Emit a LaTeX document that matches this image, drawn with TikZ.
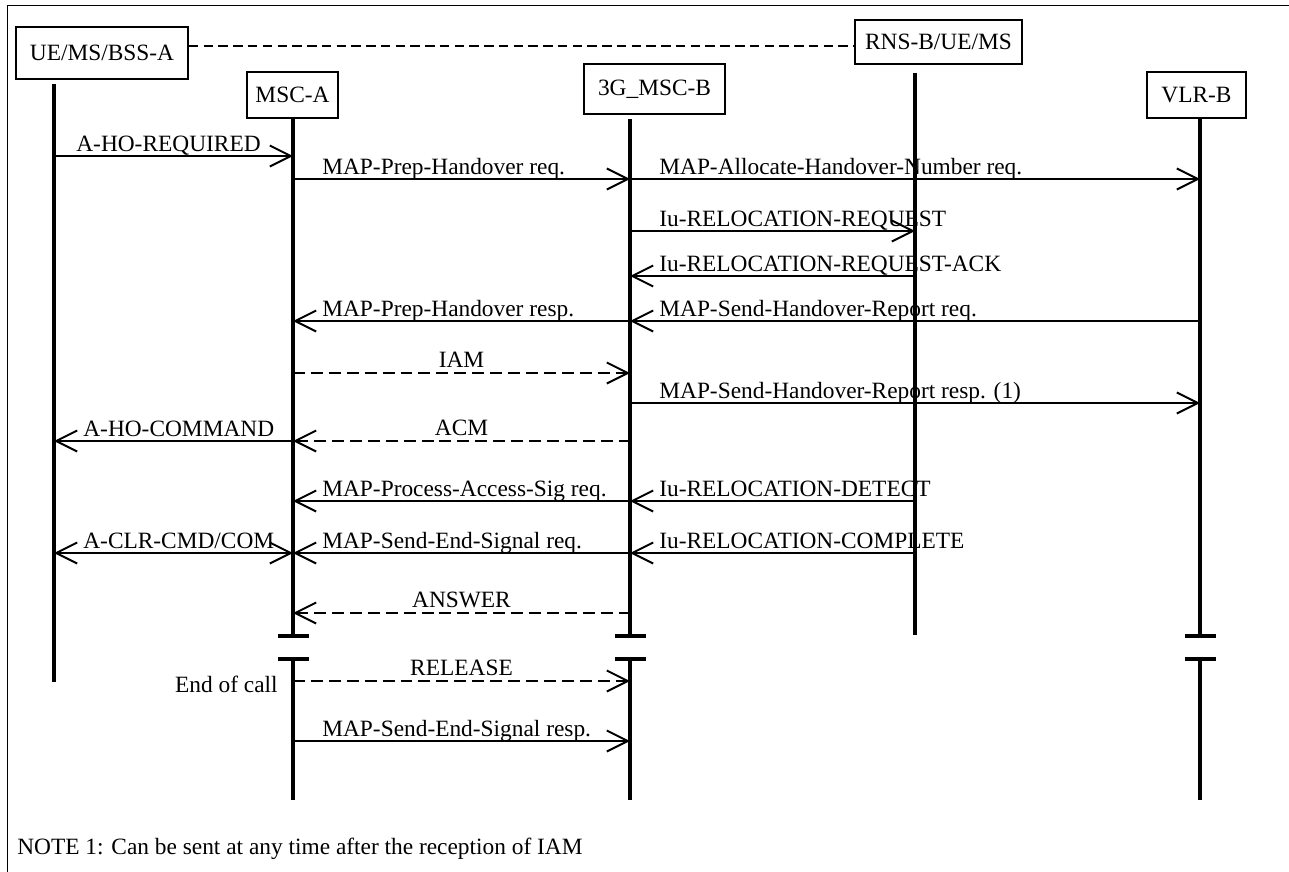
\documentclass[tikz,border=0pt]{standalone}
\usepackage{fontspec}
\setmainfont{Liberation Serif}
\usetikzlibrary{arrows.meta, calc, positioning}
\newcommand{\msgfont}{\fontsize{13.3pt}{16pt}\selectfont}
\tikzset{
    entity/.style={draw, line width=1.1pt, inner sep=2pt, font=\msgfont},
    lifeline/.style={line width=1.8pt},
    breakBar/.style={line width=2.3pt},
    msgEdge/.style={->, line width=1.1pt},
    msgBack/.style={<-, line width=1.1pt},
    msgBoth/.style={<->, line width=1.1pt},
    msgDash/.style={->, line width=1.1pt, dash pattern=on 6.8pt off 3.4pt},
    msgDashBack/.style={<-, line width=1.1pt, dash pattern=on 6.8pt off 3.4pt},
    msgLabel/.style={font=\msgfont, inner sep=0pt},
    >={Straight Barb[length=0.42cm, width=0.42cm]},
}
% message between two lifelines, label left aligned
\newcommand{\drawMsg}[5][msgEdge]{
    \coordinate (l) at ($(#2)+(0,#4)$);
    \coordinate (r) at ($(#3)+(0,#4)$);
    \draw[#1] (l) -- (r);
    \node[msgLabel, anchor=base west] at ($(l)+(29,-5)$) {#5};
}
% message with centred label
\newcommand{\drawMsgMid}[5][msgDash]{
    \coordinate (l) at ($(#2)+(0,#4)$);
    \coordinate (r) at ($(#3)+(0,#4)$);
    \draw[#1] (l) -- node[msgLabel, anchor=base, yshift=3pt] {#5} (r);
}
% lifeline with a break
\newcommand{\drawLifeline}[2]{
    \draw[lifeline] ($(#1)+(0,#2)$) -- ($(#1)+(0,636)$);
    \draw[breakBar] ($(#1)+(-15.5,636)$) -- ($(#1)+(15.5,636)$);
    \draw[breakBar] ($(#1)+(-15.5,659)$) -- ($(#1)+(15.5,659)$);
    \draw[lifeline] ($(#1)+(0,659)$) -- ($(#1)+(0,800)$);
}
\begin{document}
\begin{tikzpicture}[x=0.02cm, y=-0.02cm]

        \clip (0,0) rectangle (1289,872);
        \draw[line width=1.1pt] (7.5,5.5) rectangle (1300,880);

        % entities
        \node[entity, minimum width=3.44cm, minimum height=1.04cm] (ueBox) at (102,53) {UE/MS/BSS-A};
        \node[entity, minimum width=3.34cm, minimum height=0.88cm] (rnsBox) at (938.5,42) {RNS-B/UE/MS};
        \node[entity, minimum width=1.82cm, minimum height=0.92cm] (mscaBox) at (292.5,95) {MSC-A};
        \node[entity, minimum width=2.82cm, minimum height=1.0cm] (mscbBox) at (654.5,89) {3G\_MSC-B};
        \node[entity, minimum width=1.98cm, minimum height=0.92cm] (vlrBox) at (1196.5,95) {VLR-B};

        \coordinate (hdr) at (0,46);
        \draw[line width=1.1pt, dash pattern=on 5.4pt off 3pt] (ueBox.east |- hdr) -- (rnsBox.west |- hdr);

        % lifelines
        \coordinate (ue) at (54,0);
        \coordinate (msca) at (293,0);
        \coordinate (mscb) at (630,0);
        \coordinate (rns) at (915,0);
        \coordinate (vlr) at (1200,0);

        \draw[lifeline] ($(ue)+(0,84)$) -- ($(ue)+(0,682)$);
        \draw[lifeline] ($(rns)+(0,73)$) -- ($(rns)+(0,635)$);
        \drawLifeline{msca}{118}
        \drawLifeline{mscb}{119}
        \drawLifeline{vlr}{118}

        % messages
        \coordinate (l) at ($(ue)+(0,156)$);
        \coordinate (r) at ($(msca)+(0,156)$);
        \draw[msgEdge] (l) -- (r);
        \node[msgLabel, anchor=base west] at ($(l)+(22,-5)$) {A-HO-REQUIRED};
        \drawMsg{msca}{mscb}{179}{MAP-Prep-Handover req.}
        \drawMsg{mscb}{vlr}{179}{MAP-Allocate-Handover-Number req.}
        \drawMsg{mscb}{rns}{231}{Iu-RELOCATION-REQUEST}
        \drawMsg[msgBack]{mscb}{rns}{276}{Iu-RELOCATION-REQUEST-ACK}
        \drawMsg[msgBack]{mscb}{vlr}{321}{MAP-Send-Handover-Report req.}
        \drawMsg[msgBack]{msca}{mscb}{321}{MAP-Prep-Handover resp.}
        \drawMsgMid{msca}{mscb}{373}{IAM}
        \drawMsg{mscb}{vlr}{403}{MAP-Send-Handover-Report resp. (1)}
        \drawMsgMid[msgDashBack]{msca}{mscb}{441}{ACM}
        \drawMsg[msgBack]{ue}{msca}{441}{A-HO-COMMAND}
        \drawMsg[msgBack]{mscb}{rns}{501}{Iu-RELOCATION-DETECT}
        \drawMsg[msgBack]{msca}{mscb}{501}{MAP-Process-Access-Sig req.}
        \drawMsg[msgBack]{mscb}{rns}{553}{Iu-RELOCATION-COMPLETE}
        \drawMsg[msgBack]{msca}{mscb}{553}{MAP-Send-End-Signal req.}
        \drawMsg[msgBoth]{ue}{msca}{553}{A-CLR-CMD/COM}
        \drawMsgMid[msgDashBack]{msca}{mscb}{613}{ANSWER}
        \drawMsgMid{msca}{mscb}{681}{RELEASE}
        \drawMsg{msca}{mscb}{741}{MAP-Send-End-Signal resp.}

        \node[msgLabel, anchor=base east] (endCall) at (278,692) {End of call};
        \node[msgLabel, anchor=base west] (note) at (17,854) {NOTE 1: Can be sent at any time after the reception of IAM};

    \end{tikzpicture}
\end{document}
